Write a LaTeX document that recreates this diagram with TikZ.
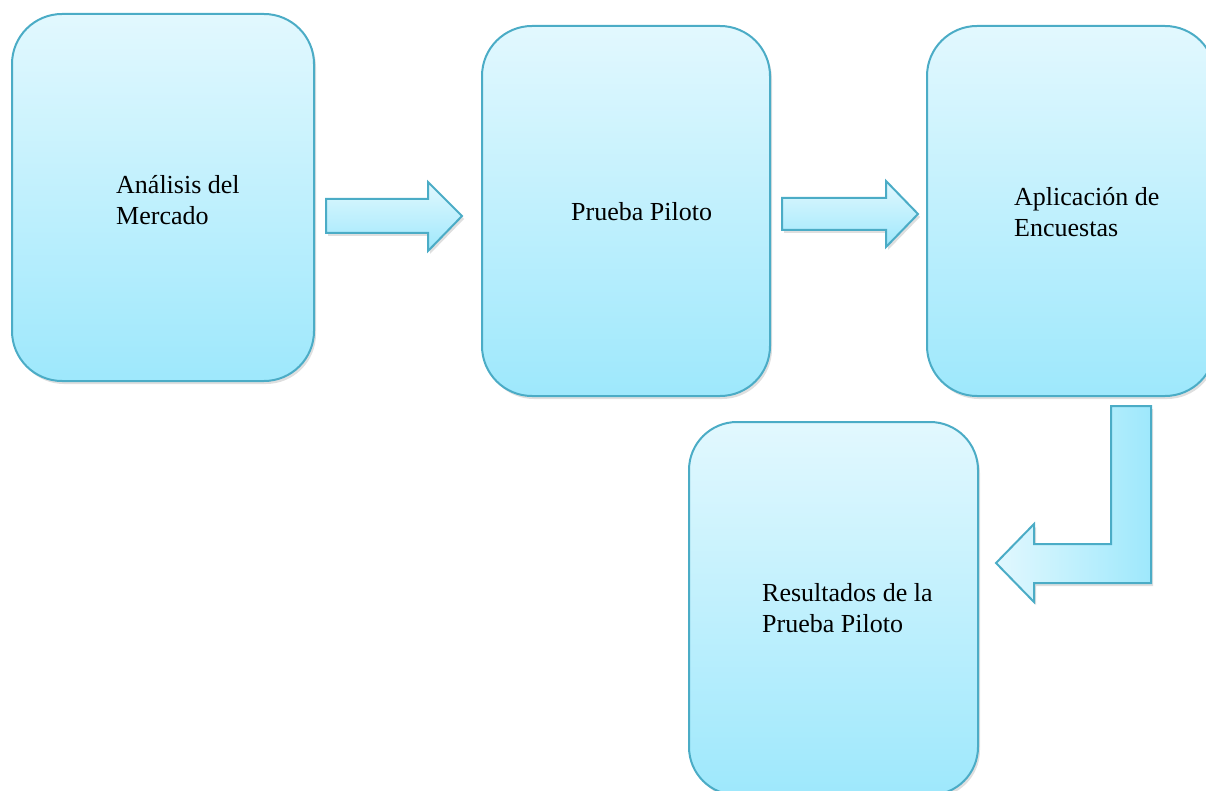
\documentclass[tikz,border=0pt]{standalone}
\usepackage{fontspec}
\setmainfont{Liberation Serif}
\usetikzlibrary{positioning,shadows}

\definecolor{borde}{RGB}{75,172,198}
\definecolor{claro}{RGB}{226,248,254}
\definecolor{oscuro}{RGB}{158,232,252}

\tikzset{
  caja/.style={draw=borde, line width=2pt, rounded corners=50pt,
    top color=claro, bottom color=oscuro,
    drop shadow={shadow xshift=2pt, shadow yshift=-3pt, opacity=0.25}},
  flecha/.style={draw=borde, line width=2pt, line join=miter,
    drop shadow={shadow xshift=2pt, shadow yshift=-3pt, opacity=0.25}},
  texto/.style={inner sep=0pt, align=left, font=\fontsize{26}{31}\selectfont}
}

\begin{document}
\begin{tikzpicture}[x=1pt, y=-1pt]
    % Marco de la figura
    \useasboundingbox (0,0) rectangle (1206,791);

    % Cajas del proceso
    \node[caja, minimum width=302, minimum height=367] (mercado) at (163,197.5) {};
    \node[caja, minimum width=288, minimum height=370] (piloto) at (626,211) {};
    \node[caja, minimum width=288, minimum height=370] (encuestas) at (1071,211) {};
    \node[caja, minimum width=289, minimum height=373, rounded corners=48pt] (resultados) at (833.5,608.5) {};

    % Textos de cada caja
    \node[texto, right=105pt of mercado.west, yshift=-3pt] (tmercado) {Análisis del\\Mercado};
    \node[texto, right=90pt of piloto.west, yshift=-1pt] (tpiloto) {Prueba Piloto};
    \node[texto, right=88pt of encuestas.west, yshift=-1pt] (tencuestas) {Aplicación de\\Encuestas};
    \node[texto, right=74pt of resultados.west] (tresultados) {Resultados de la\\Prueba Piloto};

    % Flechas de bloque entre cajas
    \draw[flecha, top color=claro, bottom color=oscuro]
      (326,199) -- (428,199) -- (428,182) -- (462,216) -- (428,251)
      -- (428,233) -- (326,233) -- cycle;
    \draw[flecha, top color=claro, bottom color=oscuro]
      (782,198) -- (886,198) -- (886,181) -- (918,214) -- (886,247)
      -- (886,230) -- (782,230) -- cycle;

    % Flecha doblada hacia los resultados
    \draw[flecha, left color=claro, right color=oscuro]
      (1111,406) -- (1151,406) -- (1151,583) -- (1034,583) -- (1034,602)
      -- (996,563) -- (1034,524) -- (1034,544) -- (1111,544) -- cycle;
\end{tikzpicture}
\end{document}
